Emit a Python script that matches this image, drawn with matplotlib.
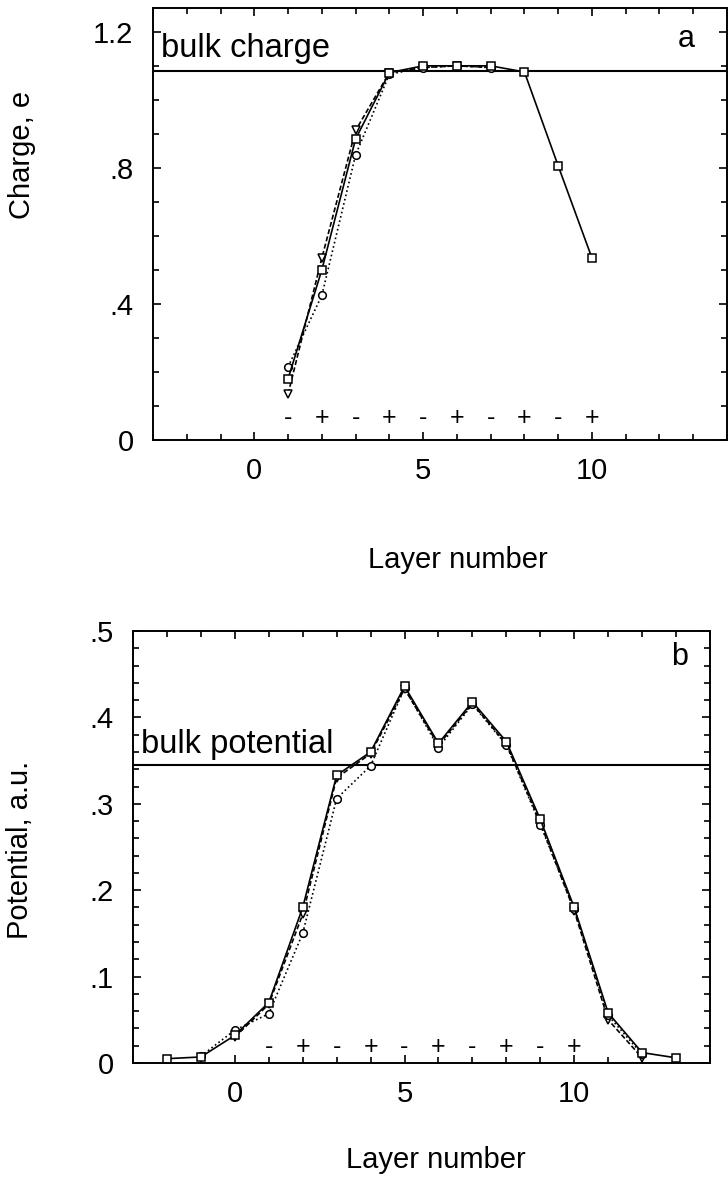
import matplotlib
matplotlib.use('Agg')
import matplotlib.pyplot as plt
from matplotlib.ticker import MultipleLocator, FuncFormatter

plt.rcParams['font.family'] = ['Liberation Sans', 'DejaVu Sans']

# panel a: layer charge
charge_sq_x = [1, 2, 3, 4, 5, 6, 7, 8, 9, 10]
charge_sq = [0.18, 0.50, 0.885, 1.08, 1.10, 1.10, 1.10, 1.082, 0.806, 0.535]
charge_ci_x = [1, 2, 3, 4, 5, 6, 7]
charge_ci = [0.215, 0.425, 0.838, 1.075, 1.095, 1.10, 1.095]
charge_tr_x = [1, 2, 3, 4, 5, 6, 7]
charge_tr = [0.135, 0.535, 0.91, 1.08, 1.095, 1.10, 1.095]
bulk_charge = 1.085

# panel b: potential
pot_sq_x = list(range(-2, 14))
pot_sq = [0.005, 0.007, 0.032, 0.070, 0.180, 0.333, 0.360, 0.436,
          0.370, 0.418, 0.372, 0.282, 0.180, 0.058, 0.012, 0.006]
pot_ci_x = list(range(-1, 13))
pot_ci = [0.008, 0.038, 0.057, 0.150, 0.306, 0.344, 0.434,
          0.365, 0.415, 0.368, 0.276, 0.178, 0.055, 0.010]
pot_tr_x = list(range(0, 13))
pot_tr = [0.030, 0.068, 0.172, 0.330, 0.358, 0.433, 0.368,
          0.416, 0.369, 0.278, 0.176, 0.050, 0.006]
bulk_potential = 0.345

# sign of each layer
sign_x = list(range(1, 11))
signs = ['-', '+'] * 5


def no_lead_zero(v, pos):
    s = '%g' % round(v, 3)
    if s.startswith('0.'):
        s = s[1:]
    return s


def style_axes(ax, xlim, ylim, ymajor, yminor):
    ax.set_xlim(*xlim)
    ax.set_ylim(*ylim)
    ax.xaxis.set_major_locator(MultipleLocator(5))
    ax.xaxis.set_minor_locator(MultipleLocator(1))
    ax.yaxis.set_major_locator(MultipleLocator(ymajor))
    ax.yaxis.set_minor_locator(MultipleLocator(yminor))
    ax.yaxis.set_major_formatter(FuncFormatter(no_lead_zero))
    ax.tick_params(which='both', direction='in', top=True, right=True,
                   labelsize=21, width=1.2)
    ax.tick_params(which='major', length=6, pad=12)
    ax.tick_params(which='minor', length=4)
    ax.tick_params(axis='y', which='major', pad=14)
    for sp in ax.spines.values():
        sp.set_linewidth(1.4)


def draw_series(ax, xs, ys, marker, ls):
    ax.plot(xs, ys, color='black', linestyle=ls, linewidth=1.2, marker=marker,
            markersize=5.5, markerfacecolor='white', markeredgecolor='black',
            markeredgewidth=1.1)


W, H = 728, 1199
fig = plt.figure(figsize=(W / 100, H / 100), dpi=100)

ax1 = fig.add_axes([153 / W, (H - 440) / H, 574 / W, 432 / H])
ax1.axhline(bulk_charge, color='black', linewidth=1.5)
draw_series(ax1, charge_tr_x, charge_tr, 'v', (0, (3, 1.5)))
draw_series(ax1, charge_ci_x, charge_ci, 'o', ':')
draw_series(ax1, charge_sq_x, charge_sq, 's', '-')
for x, s in zip(sign_x, signs):
    ax1.text(x, 0.065, s, ha='center', va='center', fontsize=18)
ax1.text(-2.75, bulk_charge + 0.02, 'bulk charge', fontsize=23.5, va='bottom')
ax1.text(12.8, 1.18, 'a', fontsize=22, ha='center', va='center')
style_axes(ax1, (-3, 14), (0, 1.27), 0.4, 0.1)

ax2 = fig.add_axes([133 / W, (H - 1063) / H, 577 / W, 432 / H])
ax2.axhline(bulk_potential, color='black', linewidth=1.5)
draw_series(ax2, pot_tr_x, pot_tr, 'v', (0, (3, 1.5)))
draw_series(ax2, pot_ci_x, pot_ci, 'o', ':')
draw_series(ax2, pot_sq_x, pot_sq, 's', '-')
for x, s in zip(sign_x, signs):
    ax2.text(x, 0.018, s, ha='center', va='center', fontsize=18)
ax2.text(-2.75, bulk_potential + 0.006, 'bulk potential', fontsize=23.5,
         va='bottom')
ax2.text(13.1, 0.47, 'b', fontsize=22, ha='center', va='center')
style_axes(ax2, (-3, 14), (0, 0.5), 0.1, 0.02)

fig.text(22 / W, 1 - 155 / H, 'Charge, e', rotation=90, fontsize=21,
         ha='center', va='center')
fig.text(458 / W, 1 - 560 / H, 'Layer number', fontsize=21,
         ha='center', va='center')
fig.text(20 / W, 1 - 850 / H, 'Potential, a.u.', rotation=90, fontsize=21,
         ha='center', va='center')
fig.text(436 / W, 1 - 1160 / H, 'Layer number', fontsize=21,
         ha='center', va='center')

fig.savefig('out.png', dpi=100)
